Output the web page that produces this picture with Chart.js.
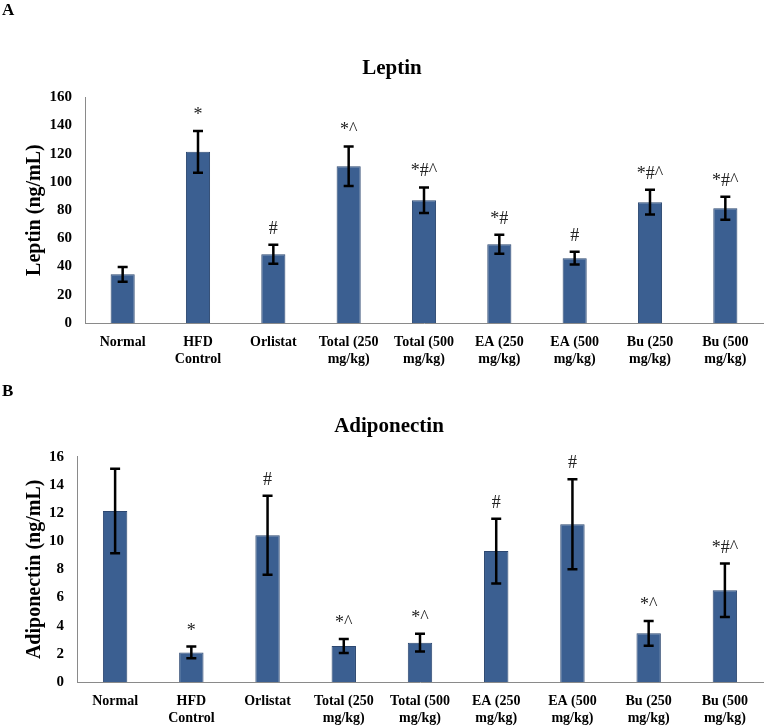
<!DOCTYPE html>
<html><head><meta charset="utf-8">
<script src="https://cdn.jsdelivr.net/npm/chart.js@4.4.1/dist/chart.umd.min.js"></script>
<style>
html,body{margin:0;padding:0;background:#fff;width:765px;height:727px;overflow:hidden;}
#wrap{position:relative;width:765px;height:727px;}
canvas{position:absolute;left:0;}
.lab{position:absolute;font:bold 17px "Liberation Serif",serif;color:#000;line-height:1;}
</style></head><body>
<div id="wrap">
<canvas id="c1" width="765" height="385" style="top:0"></canvas>
<canvas id="c2" width="765" height="342" style="top:385px"></canvas>
<div class="lab" style="left:2px;top:1px">A</div>
<div class="lab" style="left:2px;top:382px">B</div>
</div>
<script>
const categories = ['Normal', ['HFD', 'Control'], 'Orlistat', ['Total (250', 'mg/kg)'], ['Total (500', 'mg/kg)'],
  ['EA (250', 'mg/kg)'], ['EA (500', 'mg/kg)'], ['Bu (250', 'mg/kg)'], ['Bu (500', 'mg/kg)']];

const leptinMean = [34.5, 121.3, 48.7, 111.1, 87.0, 55.8, 45.9, 85.6, 81.3];
const leptinErr  = [5.2, 14.8, 6.7, 14.0, 9.1, 6.8, 4.5, 8.8, 8.2];
const leptinSig  = ['', '*', '#', '*^', '*#^', '*#', '#', '*#^', '*#^'];
const leptinTicks = [0, 20, 40, 60, 80, 100, 120, 140, 160];

const adipoMean = [12.15, 2.1, 10.42, 2.56, 2.79, 9.3, 11.2, 3.46, 6.51];
const adipoErr  = [3.0, 0.42, 2.8, 0.5, 0.63, 2.3, 3.2, 0.88, 1.9];
const adipoSig  = ['', '*', '#', '*^', '*^', '#', '#', '*^', '*#^'];
const adipoTicks = [0, 2, 4, 6, 8, 10, 12, 14, 16];

const SERIF = '"Liberation Serif", "Times New Roman", serif';
const BAR_FILL = '#3B5F91';
const BAR_EDGE = '#2C4770';
const AXIS_COL = '#8a8a8a';

function errorBarPlugin(means, errs, sig) {
  return {
    id: 'errbars',
    afterDatasetsDraw(chart) {
      const ctx = chart.ctx;
      const meta = chart.getDatasetMeta(0);
      const ys = chart.scales.y;
      ctx.save();
      meta.data.forEach((bar, i) => {
        const v = means[i], e = errs[i];
        const yt = ys.getPixelForValue(v + e), yb = ys.getPixelForValue(v - e);
        ctx.strokeStyle = '#000';
        ctx.lineWidth = 2.5;
        ctx.beginPath();
        ctx.moveTo(bar.x, yt); ctx.lineTo(bar.x, yb);
        ctx.moveTo(bar.x - 5, yt); ctx.lineTo(bar.x + 5, yt);
        ctx.moveTo(bar.x - 5, yb); ctx.lineTo(bar.x + 5, yb);
        ctx.stroke();
        if (sig[i]) {
          ctx.fillStyle = '#222';
          ctx.font = '18px ' + SERIF;
          ctx.textAlign = 'center';
          ctx.textBaseline = 'alphabetic';
          ctx.fillText(sig[i], bar.x, yt - 11);
        }
      });
      ctx.restore();
    }
  };
}

function makeChart(id, cfg) {
  return new Chart(document.getElementById(id), {
    type: 'bar',
    data: {
      labels: categories,
      datasets: [{
        data: cfg.means,
        backgroundColor: BAR_FILL,
        borderColor: BAR_EDGE,
        borderWidth: 1,
        categoryPercentage: 1,
        barPercentage: 0.32
      }]
    },
    options: {
      responsive: false,
      animation: false,
      events: [],
      layout: { padding: { left: cfg.padLeft, right: 2, top: 0, bottom: 0 } },
      plugins: {
        legend: { display: false },
        tooltip: { enabled: false },
        title: {
          display: true,
          text: cfg.title,
          color: '#000',
          font: { family: SERIF, size: 21, weight: 'bold' },
          padding: { top: cfg.titleTop, bottom: cfg.titleBottom }
        }
      },
      scales: {
        x: {
          grid: { display: false, drawTicks: false },
          border: { display: true, color: AXIS_COL, width: 1 },
          ticks: {
            color: '#000',
            padding: 11,
            maxRotation: 0,
            autoSkip: false,
            font: { family: SERIF, size: 14, weight: 'bold', lineHeight: 1.2 }
          },
          afterFit(scale) { scale.height = cfg.xHeight; }
        },
        y: {
          min: 0,
          max: cfg.ticks[cfg.ticks.length - 1],
          afterBuildTicks(scale) { scale.ticks = cfg.ticks.map(v => ({ value: v })); },
          grid: { display: false, drawTicks: false },
          border: { display: true, color: AXIS_COL, width: 1 },
          ticks: {
            color: '#000',
            padding: 13,
            font: { family: SERIF, size: 15, weight: 'bold' }
          },
          title: {
            display: true,
            text: cfg.yTitle,
            color: '#000',
            font: { family: SERIF, size: 20, weight: 'bold' },
            padding: { top: cfg.yTitlePad, bottom: 0 }
          },
          afterFit(scale) { scale.width = cfg.yWidth; }
        }
      }
    },
    plugins: [errorBarPlugin(cfg.means, cfg.errs, cfg.sig)]
  });
}

makeChart('c1', {
  means: leptinMean, errs: leptinErr, sig: leptinSig, ticks: leptinTicks,
  title: 'Leptin', yTitle: 'Leptin (ng/mL)',
  padLeft: 21, yWidth: 64, yTitlePad: 2,
  titleTop: 56, titleBottom: 16, xHeight: 62
});

makeChart('c2', {
  means: adipoMean, errs: adipoErr, sig: adipoSig, ticks: adipoTicks,
  title: 'Adiponectin', yTitle: 'Adiponectin (ng/mL)',
  padLeft: 15, yWidth: 62, yTitlePad: 8,
  titleTop: 29, titleBottom: 17.5, xHeight: 45
});
</script>
</body></html>
